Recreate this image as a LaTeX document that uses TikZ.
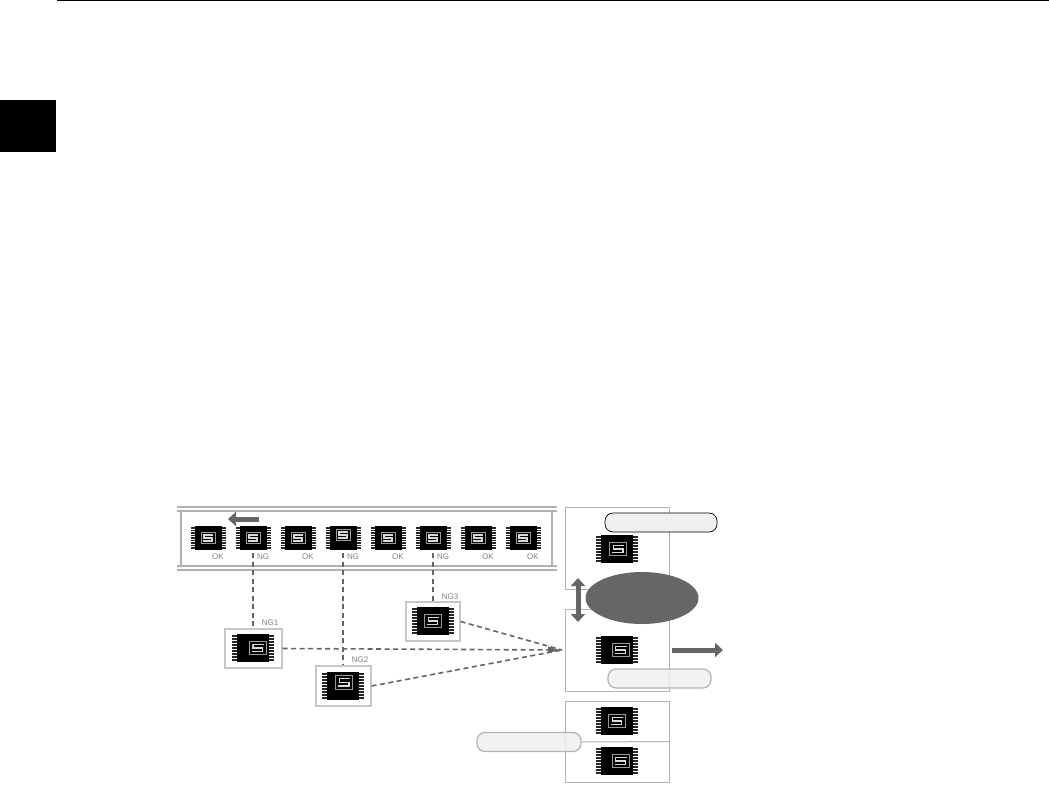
\documentclass[tikz,border=0pt]{standalone}
\usepackage{fontspec}
\setmainfont{Liberation Sans}
\usetikzlibrary{arrows.meta,shapes.geometric}
\definecolor{railgray}{gray}{.7}
\definecolor{boxgray}{gray}{.78}
\definecolor{darkgray}{gray}{.4}
\definecolor{pillgray}{gray}{.94}
\tikzset{
  pics/chip/.style n args={2}{code={
    \foreach \p in {-10,-7.5,-5,-2.5,0,2.5,5,7.5,10}{\draw[black!85,line width=1.3] (-17.5,\p)--(17.5,\p);}
    \node[fill=black,minimum width=27,minimum height=24,inner sep=0,transform shape] (-body) {};
    \draw[gray!80,line width=.9] (#1-7,#2-5.5) rectangle (#1+7,#2+5.5);
    \draw[white!85!black,line width=1.2] (#1+5,#2-3)--(#1-4,#2-3)--(#1-4,#2)--(#1+4,#2)--(#1+4,#2+3)--(#1-5,#2+3);
  }},
  panel/.style={draw=railgray,line width=1,minimum width=104,minimum height=82,inner sep=0},
  ngbox/.style={draw=boxgray,line width=1.2,inner sep=0},
  pill/.style={rounded corners=8,minimum width=104,minimum height=19,inner sep=0,fill=pillgray},
  rail/.style={draw=railgray,line width=1.4},
  probe/.style={darkgray,line width=1.6,dash pattern=on 5pt off 3.5pt},
  flow/.style={darkgray,line width=5,-{Triangle[length=8pt,width=14pt]}},
  tag/.style={text=gray,font=\fontsize{8}{9}\selectfont,inner sep=0},
}
\begin{document}
\begin{tikzpicture}[x=1pt,y=-1pt]
\useasboundingbox (0,0) rectangle (1049,795);
% page header
\coordinate (hl) at (57,.5); \coordinate (hr) at (1049,.5);
\draw[black,line width=1] (hl)--(hr);
\node[fill=black,minimum width=56,minimum height=52,inner sep=0] (tab) at (28,126) {};
% conveyor
\foreach \yy/\nm in {507/a,511/b,566/c,570/d}{
  \coordinate (\nm l) at (177,\yy); \coordinate (\nm r) at (557,\yy);
  \draw[rail] (\nm l)--(\nm r);}
\coordinate (il) at (181,511); \coordinate (il2) at (181,566);
\coordinate (ir) at (552,511); \coordinate (ir2) at (552,566);
\draw[rail] (il)--(il2); \draw[rail] (ir)--(ir2);
\foreach \i/\x/\t/\dy in {1/208/OK/0,2/253/NG/0,3/298/OK/0,4/343/NG/-3,5/388/OK/0,6/433/NG/0,7/478/OK/0,8/523/OK/0}{
  \pic (c\i) at (\x,538) {chip={0}{\dy}};
  \node[tag] (t\i) at (\x+10,557) {\t};}
\coordinate (beltr) at (259,519); \coordinate (beltl) at (228,519);
\draw[flow] (beltr)--(beltl);
% rejected chips
\node[ngbox,minimum width=57,minimum height=39] (ng1) at (253.5,648.5) {};
\node[ngbox,minimum width=55,minimum height=40] (ng2) at (343.5,686) {};
\node[ngbox,minimum width=54,minimum height=39] (ng3) at (433,621.5) {};
\pic[scale=1.2] (n1) at (253,648) {chip={4}{0}};
\pic[scale=1.2] (n2) at (343,686) {chip={1}{-3}};
\pic[scale=1.2] (n3) at (433,621) {chip={0}{0}};
\node[tag] (l1) at (270,623) {NG1};
\node[tag] (l2) at (360,660) {NG2};
\node[tag] (l3) at (450,597) {NG3};
\coordinate (d2) at (253,553); \coordinate (d4) at (343,553); \coordinate (d6) at (433,553);
\draw[probe] (d2)--(ng1.north-|d2);
\draw[probe] (d4)--(ng2.north-|d4);
\draw[probe] (d6)--(ng3.north-|d6);
\coordinate (tgt) at (562,650);
\draw[probe] (ng3.east)--(tgt);
\draw[probe] (ng2.east)--(tgt);
\draw[probe,-{Latex[length=14pt,width=7pt,fill=darkgray]}] (ng1.east)--(tgt);
% right column
\node[panel] (top) at (617,548) {};
\node[panel] (mid) at (617,650) {};
\node[panel,minimum height=81] (bot) at (617,741.5) {};
\pic[scale=1.2] (p1) at (617,549) {chip={1}{0}};
\pic[scale=1.2] (p2) at (617,650) {chip={3}{0}};
\pic[scale=1.2] (p3) at (617,721) {chip={0}{0}};
\pic[scale=1.2] (p4) at (617,761) {chip={3}{0}};
\coordinate (up) at (578,578); \coordinate (dn) at (578,622);
\draw[darkgray,line width=5,{Triangle[length=8pt,width=14pt]}-{Triangle[length=8pt,width=14pt]}] (up)--(dn);
\node[ellipse,fill=darkgray,minimum width=113,minimum height=52,inner sep=0] (zone) at (642,598) {};
\node[pill,draw=black,line width=.7,minimum width=112] (pa) at (661,522.5) {};
\node[pill,draw=railgray,line width=1.2,fill opacity=.85,minimum width=103] (pb) at (659.5,678.5) {};
\node[pill,draw=railgray,line width=1.2,fill opacity=.85] (pc) at (529,742) {};
\draw[railgray,line width=1] (pc.east)--(bot.east);
\coordinate (outl) at (672,650); \coordinate (outr) at (723,650);
\draw[flow] (outl)--(outr);
\end{tikzpicture}
\end{document}
